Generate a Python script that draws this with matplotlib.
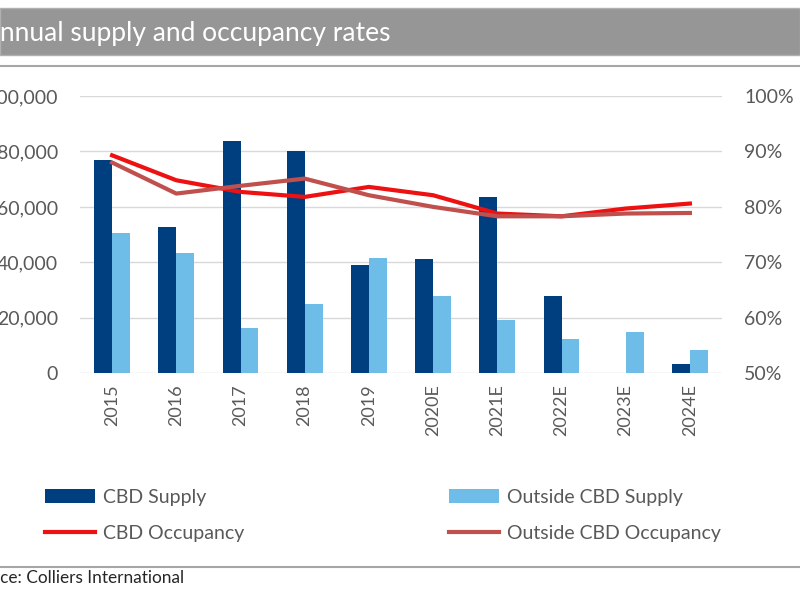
#!/usr/bin/env python3
"""Annual supply and occupancy rates: CBD vs outside CBD (bars + occupancy lines)."""
import matplotlib
matplotlib.use("Agg")
import matplotlib.pyplot as plt
from matplotlib.patches import Rectangle
from matplotlib.lines import Line2D
from matplotlib.ticker import FuncFormatter
import numpy as np

plt.rcParams["font.family"] = ["Lato", "DejaVu Sans"]

YEARS = ["2015", "2016", "2017", "2018", "2019",
         "2020E", "2021E", "2022E", "2023E", "2024E"]
CBD_SUPPLY = [77000, 52800, 83700, 80000, 38900,
              41100, 63400, 27800, 0, 3200]
OUTSIDE_SUPPLY = [50400, 43200, 16400, 25100, 41600,
                  27800, 19100, 12500, 14900, 8500]
CBD_OCC = [89.3, 84.8, 82.7, 81.8, 83.6, 82.1, 78.8, 78.3, 79.7, 80.6]
OUTSIDE_OCC = [88.0, 82.4, 83.8, 85.1, 82.1, 80.0, 78.3, 78.3, 78.8, 78.9]

NAVY = "#003f7f"
LIGHT = "#6dbde8"
RED = "#ee1111"
DULL_RED = "#c0504d"
GREY_TXT = "#595959"


def clipped_text(fig, x_px, y, full, hidden, **kw):
    """Place text so that the `hidden` prefix falls off the left edge."""
    probe = fig.text(0, y, hidden, **kw)
    renderer = fig.canvas.get_renderer()
    w = probe.get_window_extent(renderer).width
    probe.remove()
    fig.text((x_px - w) / fig.bbox.width, y, full, **kw)


fig = plt.figure(figsize=(8, 6), dpi=100)

# title band
fig.patches.append(Rectangle((0, 0.9083), 1.0, 0.0784, transform=fig.transFigure,
                             facecolor="#969696", edgecolor="#b0b0b0", lw=1))
clipped_text(fig, 0, 0.945, "Annual supply and occupancy rates", "A",
             color="white", fontsize=19, va="center")
fig.add_artist(Line2D([0, 1], [0.89, 0.89], transform=fig.transFigure,
                      color="#a6a6a6", lw=1.5))
fig.add_artist(Line2D([0, 1], [0.055, 0.055], transform=fig.transFigure,
                      color="#a6a6a6", lw=1.5))
clipped_text(fig, 0, 0.036, "Source: Colliers International", "Sour",
             color="#262626", fontsize=12.4, va="center")

ax = fig.add_axes([0.1, 0.378, 0.8025, 0.462])
x = np.arange(len(YEARS))
w = 0.28
b1 = ax.bar(x - w / 2, CBD_SUPPLY, w, color=NAVY, label="CBD Supply", zorder=2)
b2 = ax.bar(x + w / 2, OUTSIDE_SUPPLY, w, color=LIGHT, label="Outside CBD Supply", zorder=2)
ax.set_xlim(-0.5, len(YEARS) - 0.5)
ax.set_ylim(0, 100000)
ax.set_yticks(range(0, 100001, 20000))
ax.yaxis.set_major_formatter(FuncFormatter(lambda v, _: f"{int(v):,}"))
ax.grid(axis="y", color="#d9d9d9", lw=1, zorder=0)
for s in ax.spines.values():
    s.set_visible(False)
ax.set_xticks(x)
ax.set_xticklabels(YEARS, rotation=90)
ax.tick_params(axis="both", length=0, colors=GREY_TXT, labelsize=13)
ax.tick_params(axis="y", pad=16, labelsize=14)
ax.tick_params(axis="x", pad=8)

ax2 = ax.twinx()
l1, = ax2.plot(x, CBD_OCC, color=RED, lw=3, label="CBD Occupancy", zorder=3)
l2, = ax2.plot(x, OUTSIDE_OCC, color=DULL_RED, lw=3, label="Outside CBD Occupancy", zorder=3)
ax2.set_ylim(50, 100)
ax2.set_yticks(range(50, 101, 10))
ax2.yaxis.set_major_formatter(FuncFormatter(lambda v, _: f"{int(v)}%"))
for s in ax2.spines.values():
    s.set_visible(False)
ax2.tick_params(axis="y", length=0, colors=GREY_TXT, labelsize=14, pad=16)

leg = fig.legend([b1, l1, b2, l2],
                 ["CBD Supply", "CBD Occupancy", "Outside CBD Supply", "Outside CBD Occupancy"],
                 ncol=2, loc="center left", bbox_to_anchor=(0.056, 0.141),
                 frameon=False, fontsize=14, handlelength=2.6, handletextpad=0.4,
                 columnspacing=10.5, labelspacing=0.96, borderaxespad=0, borderpad=0)
for t in leg.get_texts():
    t.set_color(GREY_TXT)

fig.savefig("out.png", dpi=100)
